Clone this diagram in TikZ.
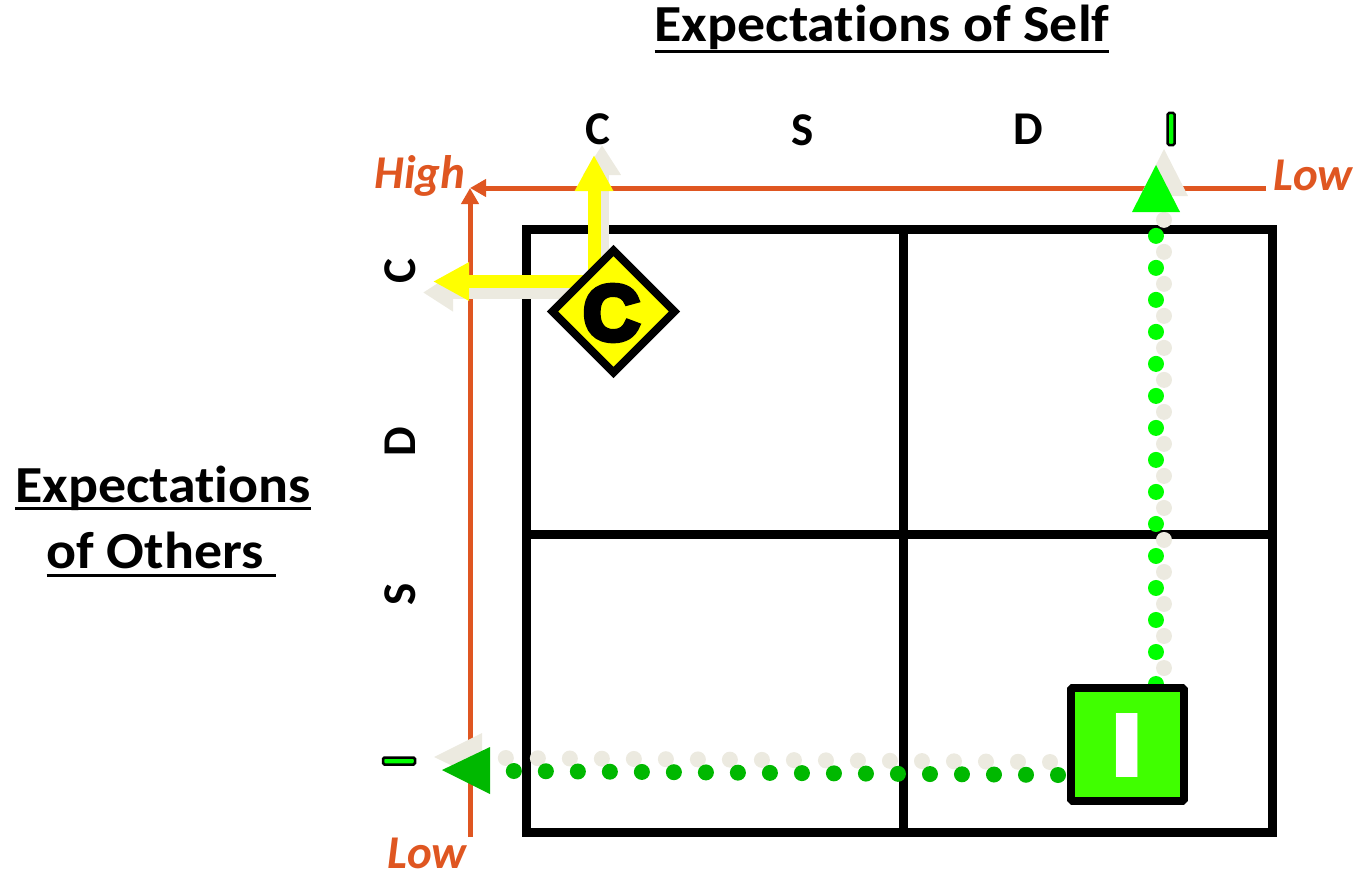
\documentclass[tikz,border=0pt]{standalone}
\usepackage{fontspec}
\setmainfont{Carlito}[Ligatures=NoCommon]
\newfontfamily\heavyfont[FakeBold=7]{Liberation Sans Bold}
\newfontfamily\plainbold{Liberation Sans Bold}
\usetikzlibrary{arrows.meta,shapes.geometric}
\definecolor{orangeline}{HTML}{DF5621}
\definecolor{shadowc}{HTML}{ECEAE0}
\definecolor{lightg}{HTML}{00FF00}
\definecolor{darkg}{HTML}{00B800}
\definecolor{squareg}{HTML}{40FF00}
\definecolor{yel}{HTML}{FFFF00}
\newcommand{\titleul}[2]{\setbox0\hbox{#2}\rlap{\rule[-#1]{\wd0}{3pt}}\box0}
\tikzset{
  titletext/.style={font=\fontsize{52}{60}\selectfont\bfseries,inner sep=0pt,xscale=1.075,anchor=base},
  axisletter/.style={font=\fontsize{47}{50}\selectfont\bfseries,inner sep=0pt},
  rangetext/.style={font=\fontsize{47}{50}\selectfont\bfseries\itshape,text=orangeline,inner sep=0pt},
  axisline/.style={draw=orangeline,line width=5pt,-{Triangle[length=16pt,width=17pt,fill=orangeline]}},
  gridline/.style={draw=black,line width=9pt},
  shadowarrow/.style={draw=shadowc,line width=13pt,-{Triangle[length=30pt,width=36pt,fill=shadowc]}},
  yelarrow/.style={draw=yel,line width=13pt,-{Triangle[length=36pt,width=36pt,fill=yel]}},
  dotpath/.style={line width=16pt,line cap=round,dash pattern=on 0.01pt off 32pt},
  smallI/.style={draw=black,line width=2.5pt,rounded corners=1.5pt,inner sep=0pt,fill=lightg,text=lightg,font=\fontsize{6}{6}\selectfont},
}
\begin{document}
\begin{tikzpicture}[x=1pt,y=-1pt]
\useasboundingbox (0,0) rectangle (1356,872);
% titles
\node[titletext] (tself) at (882,41.5) {\titleul{11.5pt}{Expectations of Self}};
\node[titletext] (tothers1) at (163,502) {\titleul{8pt}{Expectations}};
\node[titletext] (tothers2) at (161.5,568) {\titleul{8.5pt}{of Others\ }};
% axis letters
\node[axisletter] (topC) at (598,129) {C};
\node[axisletter] (topS) at (803,130) {S};
\node[axisletter] (topD) at (1028,129) {D};
\node[smallI,minimum width=7pt,minimum height=32pt] (topI) at (1171,129) {I};
\node[axisletter,rotate=90] (leftC) at (400,271) {C};
\node[axisletter,rotate=90] (leftD) at (400,442) {D};
\node[axisletter,rotate=90] (leftS) at (400,594) {S};
\node[smallI,minimum width=32pt,minimum height=7pt] (leftI) at (399,761) {\rotatebox{90}{I}};
% range labels
\node[rangetext] (high) at (420,176) {High};
\node[rangetext] (lowr) at (1313,175) {Low};
\node[rangetext] (lowb) at (427,853) {Low};
% orange axes
\coordinate (corner) at (470,188);
\coordinate (axisR) at (1266,188);
\coordinate (axisB) at (470,837);
\draw[axisline] (axisR) -- (corner);
\draw[axisline] (axisB) -- (corner);
% grid
\node[draw=black,line width=9pt,minimum width=746pt,minimum height=603pt,outer sep=0pt,inner sep=0pt] (grid) at (899,530.5) {};
\coordinate (midT) at (903,229);
\coordinate (midB) at (903,832);
\coordinate (midL) at (526,534);
\coordinate (midR) at (1272,534);
\draw[gridline] (midT) -- (midB);
\draw[gridline] (midL) -- (midR);
% shadows
\coordinate (sUpS) at (602,285);
\coordinate (sUpE) at (602,145);
\coordinate (sLeftS) at (590,292.5);
\coordinate (sLeftE) at (423,292.5);
\draw[shadowarrow] (sUpS) -- (sUpE);
\draw[shadowarrow] (sLeftS) -- (sLeftE);
% yellow arrows
\coordinate (yUpS) at (594,285);
\coordinate (yUpE) at (594,155);
\coordinate (yLeftS) at (590,281.5);
\coordinate (yLeftE) at (433,281.5);
\draw[yelarrow] (yUpS) -- (yUpE);
\draw[yelarrow] (yLeftS) -- (yLeftE);
% diamond
\node[diamond,draw=black,fill=yel,line width=8pt,minimum width=122pt,minimum height=122pt,aspect=1,inner sep=0pt,outer sep=0pt] (cbox) at (613.5,311.5) {};
\node[inner sep=0pt,font=\heavyfont\fontsize{78}{78}\selectfont] (cletter) at (611.5,313) {C};
% dotted routes
\coordinate (vsA) at (1164,668);
\coordinate (vsB) at (1164,219);
\coordinate (vgA) at (1156,684);
\coordinate (vgB) at (1156,235);
\draw[dotpath,draw=shadowc] (vsA) -- (vsB);
\draw[dotpath,draw=lightg] (vgA) -- (vgB);
\coordinate (hsA) at (1050,762);
\coordinate (hsB) at (505,758);
\coordinate (hgA) at (1058,775);
\coordinate (hgB) at (513,771);
\draw[dotpath,draw=shadowc] (hsA) -- (hsB);
\draw[dotpath,draw=darkg] (hgA) -- (hgB);
% triangles
\fill[shadowc] (1164,149) -- (1188,196) -- (1140,196) -- cycle;
\fill[lightg] (1156,165) -- (1180,212) -- (1132,212) -- cycle;
\fill[shadowc] (434,757) -- (482,733) -- (482,780) -- cycle;
\fill[darkg] (442,770) -- (490,747) -- (490,794) -- cycle;
% I square
\node[draw=black,fill=squareg,line width=8pt,line join=bevel,minimum width=113pt,minimum height=113pt,inner sep=0pt,outer sep=0pt] (isq) at (1127,744) {};
\node[inner sep=0pt,text=white,xscale=1.6,font=\plainbold\fontsize{93}{93}\selectfont] (iletter) at (1127,745.5) {I};
\end{tikzpicture}
\end{document}
